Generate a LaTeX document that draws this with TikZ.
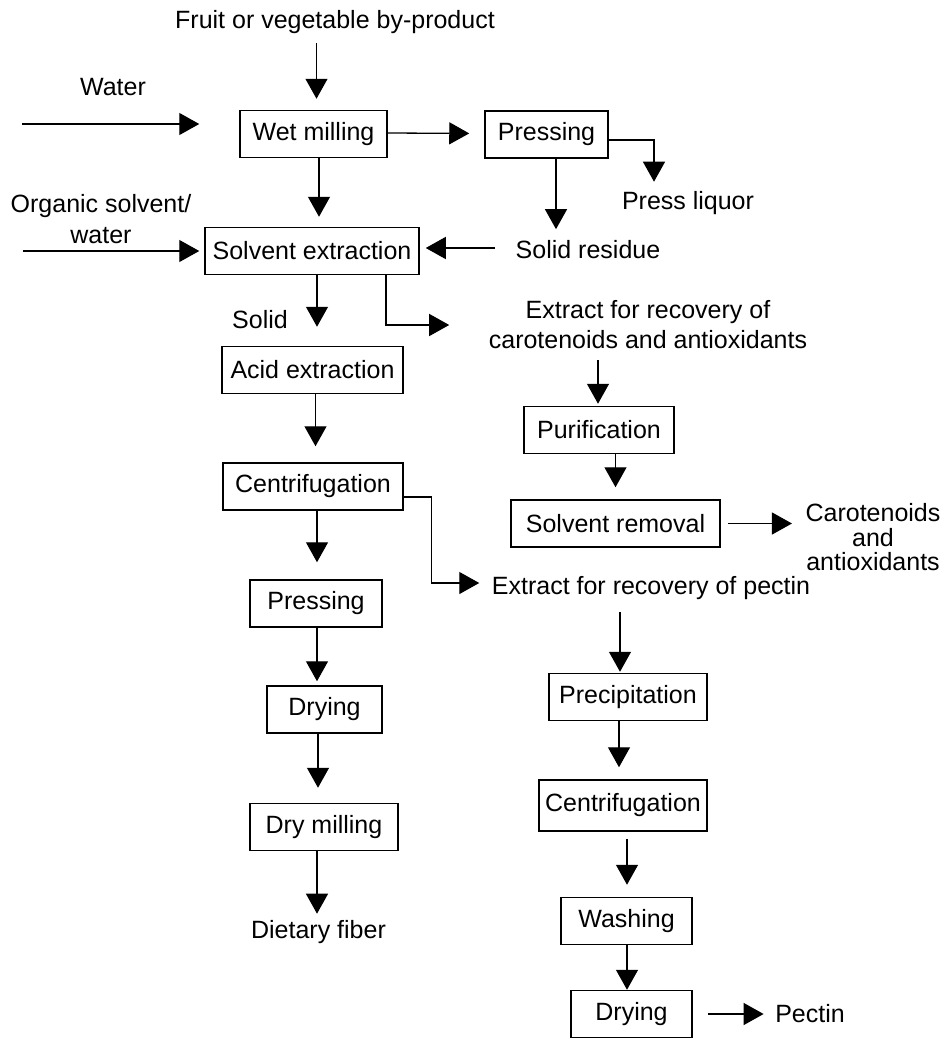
\documentclass[tikz,border=0pt]{standalone}
\usepackage{fontspec}
\setmainfont{Liberation Sans}
\usepackage{tikz}
\usetikzlibrary{arrows.meta}

\begin{document}
\begin{tikzpicture}[x=1pt,y=-1pt,line width=1.3pt,
    font=\fontsize{25}{30}\selectfont,
    box/.style={draw,line width=1.5pt,minimum height=47pt,inner sep=0pt},
    lbl/.style={inner sep=0pt,align=center},
    arr/.style={-{Triangle[length=20pt,width=22pt]}}]
    \useasboundingbox (0,0) rectangle (945,1041);
    \node[lbl] (fruit) at (335,22) {Fruit or vegetable by-product};
    \node[lbl] (water) at (113,87) {Water};
    \node[box,minimum width=147pt] (wetmill) at (313.5,134) {Wet milling};
    \node[box,minimum width=123pt] (pressa) at (546.5,134.5) {Pressing};
    \node[lbl] (liquor) at (688,203) {Press liquor};
    \node[lbl,font=\fontsize{25}{31}\selectfont] (organic) at (101,219.5) {Organic solvent/\\water};
    \node[box,minimum width=214pt] (solvext) at (312,251) {Solvent extraction};
    \node[lbl] (residue) at (588,250) {Solid residue};
    \node[lbl] (solid) at (260,320) {Solid};
    \node[lbl] (extcaro) at (648,325) {Extract for recovery of\\carotenoids and antioxidants};
    \node[box,minimum width=181pt] (acid) at (312.5,370) {Acid extraction};
    \node[box,minimum width=150pt] (purif) at (599,430) {Purification};
    \node[box,minimum width=180pt] (centa) at (313,486.5) {Centrifugation};
    \node[box,minimum width=209pt] (solrem) at (615.5,523.5) {Solvent removal};
    \node[lbl,font=\fontsize{25}{24.5}\selectfont] (carot) at (873,537.5) {Carotenoids\\and\\antioxidants};
    \node[lbl] (extpec) at (651,588) {Extract for recovery of pectin};
    \node[box,minimum width=132pt] (pressb) at (316,603.5) {Pressing};
    \node[box,minimum width=158pt] (precip) at (628,697) {Precipitation};
    \node[box,minimum width=115pt] (drya) at (324.5,709.5) {Drying};
    \node[box,minimum width=168pt,minimum height=51pt] (centb) at (623,805.5) {Centrifugation};
    \node[box,minimum width=148pt] (drymill) at (324,827) {Dry milling};
    \node[lbl] (fiber) at (318.5,932) {Dietary fiber};
    \node[box,minimum width=131pt] (wash) at (626.5,921) {Washing};
    \node[box,minimum width=121pt] (dryb) at (631.5,1014) {Drying};
    \node[lbl] (pectin) at (810,1014) {Pectin};
    \coordinate (win) at (22,124);
    \coordinate (oin) at (23,251);
    \draw[arr,shorten <=9pt,shorten >=11pt] ([xshift=3pt]wetmill.north |- fruit.south) -- ([xshift=3pt]wetmill.north);
    \draw[arr,shorten >=40pt] (win) -- (wetmill.west |- win);
    \draw[arr,shorten >=15pt] ([yshift=1pt]wetmill.east) -- ([yshift=1pt]pressa.west);
    \draw[arr,shorten >=9pt] ([yshift=-5.5pt]pressa.east) -| ([xshift=-34pt]liquor.north);
    \draw[arr,shorten >=11pt] ([xshift=9.5pt]pressa.south) -- ([xshift=9.5pt]pressa.south |- residue.north);
    \draw[arr,shorten <=20pt,shorten >=6pt] ([yshift=2pt]residue.west) -- ([yshift=2pt]residue.west -| solvext.east);
    \draw[arr,shorten >=5pt] (oin) -- (solvext.west);
    \draw[arr,shorten >=10pt] ([xshift=5.5pt]wetmill.south) -- ([xshift=5.5pt]wetmill.south |- solvext.north);
    \draw[arr,shorten >=19pt] ([xshift=5pt]solvext.south) -- ([xshift=5pt]solvext.south |- acid.north);
    \draw[arr,shorten >=39pt] ([xshift=74pt]solvext.south) |- (extcaro.west);
    \draw[arr,shorten <=10pt,shorten >=2pt] ([xshift=-1pt]extcaro.south -| purif.north) -- ([xshift=-1pt]purif.north);
    \draw[arr,shorten >=12pt] (purif.south -| solrem.north) -- (solrem.north);
    \draw[arr,shorten <=7pt,shorten >=13pt] (solrem.east) -- (solrem.east -| carot.west);
    \draw[arr,shorten >=16pt] ([xshift=3pt]acid.south) -- ([xshift=3pt]acid.south |- centa.north);
    \draw[arr,shorten >=12pt] ([yshift=-10.5pt]centa.east) -- ++(28,0) |- ([yshift=5pt]extpec.west);
    \draw[arr,shorten >=17pt] ([xshift=4pt]centa.south) -- ([xshift=4pt]centa.south |- pressb.north);
    \draw[arr,shorten >=4pt] ([xshift=1pt]pressb.south) -- ([xshift=1pt]pressb.south |- drya.north);
    \draw[arr,shorten >=15pt] ([xshift=-6.5pt]drya.south) -- ([xshift=-6.5pt]drya.south |- drymill.north);
    \draw[arr,shorten >=6pt] ([xshift=-7pt]drymill.south) -- ([xshift=-7pt]drymill.south |- fiber.north);
    \draw[arr,shorten <=12pt,shorten >=1pt] ([xshift=-8pt]precip.north |- extpec.south) -- ([xshift=-8pt]precip.north);
    \draw[arr,shorten >=12pt] ([xshift=-9pt]precip.south) -- ([xshift=-9pt]precip.south |- centb.north);
    \draw[arr,shorten <=7pt,shorten >=12pt] ([xshift=4pt]centb.south) -- ([xshift=4pt]centb.south |- wash.north);
    \draw[arr] ([xshift=0.5pt]wash.south) -- ([xshift=0.5pt]wash.south |- dryb.north);
    \draw[arr,shorten <=15pt,shorten >=11pt] (dryb.east) -- (pectin.west);
\end{tikzpicture}
\end{document}
